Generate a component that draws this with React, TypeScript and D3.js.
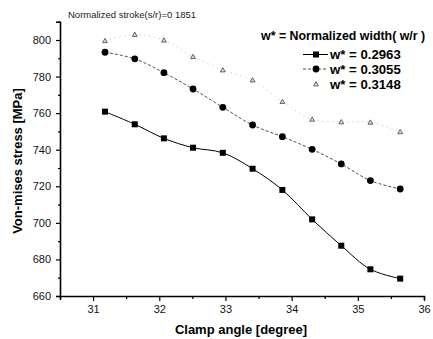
import React, { useEffect, useRef } from "react";
import * as d3 from "d3";

const width = 433;
const height = 339;
const margin = { top: 20, right: 9, bottom: 43, left: 60 };

// clamp angle [degree]
const angles = [31.18, 31.63, 32.07, 32.51, 32.96, 33.41, 33.86, 34.31, 34.75, 35.19, 35.64];
// von-mises stress [MPa] for each w*
const stress2963 = [760.8, 753.9, 746.2, 741.1, 738.3, 729.6, 718.0, 701.9, 687.5, 674.6, 669.5];
const stress3055 = [793.3, 789.7, 782.1, 773.2, 763.2, 753.5, 747.1, 740.2, 732.2, 723.1, 718.5];
const stress3148 = [799.6, 803.0, 799.9, 790.9, 783.6, 778.1, 766.3, 756.6, 755.2, 755.0, 749.8];

const seriesNames = ["w* = 0.2963", "w* = 0.3055", "w* = 0.3148"];

const font = "Arial, 'Liberation Sans', sans-serif";

function App() {
  const xAxisRef = useRef(null);
  const yAxisRef = useRef(null);

  const x = d3
    .scaleLinear()
    .domain([30.5, 36])
    .range([margin.left, width - margin.right]);
  const y = d3
    .scaleLinear()
    .domain([660, 810])
    .range([height - margin.bottom, margin.top + 1.7]);

  const line = d3
    .line()
    .x((d) => x(d[0]))
    .y((d) => y(d[1]))
    .curve(d3.curveCatmullRom);

  const series = [
    { values: stress2963, marker: "square", stroke: "#000", dash: null, width: 1 },
    { values: stress3055, marker: "circle", stroke: "#222", dash: "3,2", width: 0.8 },
    { values: stress3148, marker: "triangle", stroke: "#aaa", dash: "1,4", width: 0.8 }
  ];

  useEffect(() => {
    const xAxis = d3
      .axisBottom(x)
      .tickValues(d3.range(30.5, 36.01, 0.5))
      .tickSize(4)
      .tickFormat((d) => (Number.isInteger(d) ? String(d) : ""));
    const yAxis = d3
      .axisLeft(y)
      .tickValues(d3.range(660, 810.1, 10))
      .tickSize(4)
      .tickFormat((d) => (d % 20 === 0 ? String(d) : ""));
    const gx = d3.select(xAxisRef.current).call(xAxis);
    const gy = d3.select(yAxisRef.current).call(yAxis);
    [gx, gy].forEach((g) => {
      g.select(".domain").attr("stroke", "#000").attr("stroke-width", 1.6);
      g.selectAll(".tick line").attr("stroke", "#000").attr("stroke-width", 1.2);
      g.selectAll("text")
        .attr("font-family", font)
        .attr("font-size", 11)
        .attr("fill", "#111");
    });
    gx.selectAll(".tick line").attr("y2", (d) => (Number.isInteger(d) ? 5 : 3));
    gx.selectAll("text").attr("y", 9);
    gy.selectAll(".tick line").attr("x2", (d) => (d % 20 === 0 ? -4 : -2));
    gy.selectAll("text").attr("x", -9);
  });

  const marker = (kind, cx, cy, key) => {
    if (kind === "square")
      return <rect key={key} x={cx - 3} y={cy - 3} width={6} height={6} fill="#000" />;
    if (kind === "circle") return <circle key={key} cx={cx} cy={cy} r={3.4} fill="#000" />;
    const s = 2.4;
    return (
      <path
        key={key}
        d={`M${cx},${cy - s}L${cx + s},${cy + s * 0.8}L${cx - s},${cy + s * 0.8}Z`}
        fill="#ddd"
        stroke="#555"
        strokeWidth={0.9}
      />
    );
  };

  const legendX = 303;
  const legendY = [54.5, 69, 84];

  return (
    <svg
      width={width}
      height={height}
      style={{ position: "absolute", left: 0, top: 0, background: "#fff" }}
    >
      <rect width={width} height={height} fill="#fff" />
      <text x={68} y={18} fontFamily={font} fontSize={9.5} fill="#222">
        Normalized stroke(s/r)=0 1851
      </text>

      {series.map((s, i) => {
        const pts = angles.map((a, j) => [a, s.values[j]]);
        return (
          <g key={i}>
            <path
              d={line(pts)}
              fill="none"
              stroke={s.stroke}
              strokeWidth={s.width}
              strokeDasharray={s.dash || undefined}
            />
            {pts.map((p, j) => marker(s.marker, x(p[0]), y(p[1]), j))}
          </g>
        );
      })}

      <g ref={xAxisRef} transform={`translate(0,${height - margin.bottom})`} />
      <g ref={yAxisRef} transform={`translate(${margin.left},0)`} />

      {/* legend */}
      <text x={261} y={39.5} fontFamily={font} fontSize={12.4} fontWeight="bold" fill="#000">
        w* = Normalized width( w/r )
      </text>
      {series.map((s, i) => (
        <g key={i}>
          {i < 2 && (
            <line
              x1={legendX}
              x2={legendX + 25}
              y1={legendY[i]}
              y2={legendY[i]}
              stroke={s.stroke}
              strokeWidth={s.width}
              strokeDasharray={s.dash || undefined}
            />
          )}
          {marker(s.marker, legendX + 13, legendY[i], "m")}
          <text
            x={legendX + 27}
            y={legendY[i] + 4.5}
            fontFamily={font}
            fontSize={13.2}
            fontWeight="bold"
            fill="#000"
          >
            {seriesNames[i]}
          </text>
        </g>
      ))}

      <text
        x={241}
        y={334}
        textAnchor="middle"
        fontFamily={font}
        fontSize={13}
        fontWeight="bold"
        fill="#000"
      >
        Clamp angle [degree]
      </text>
      <text
        transform="translate(22,161) rotate(-90)"
        textAnchor="middle"
        fontFamily={font}
        fontSize={13}
        fontWeight="bold"
        fill="#000"
      >
        Von-mises stress [MPa]
      </text>
    </svg>
  );
}

export default App;
